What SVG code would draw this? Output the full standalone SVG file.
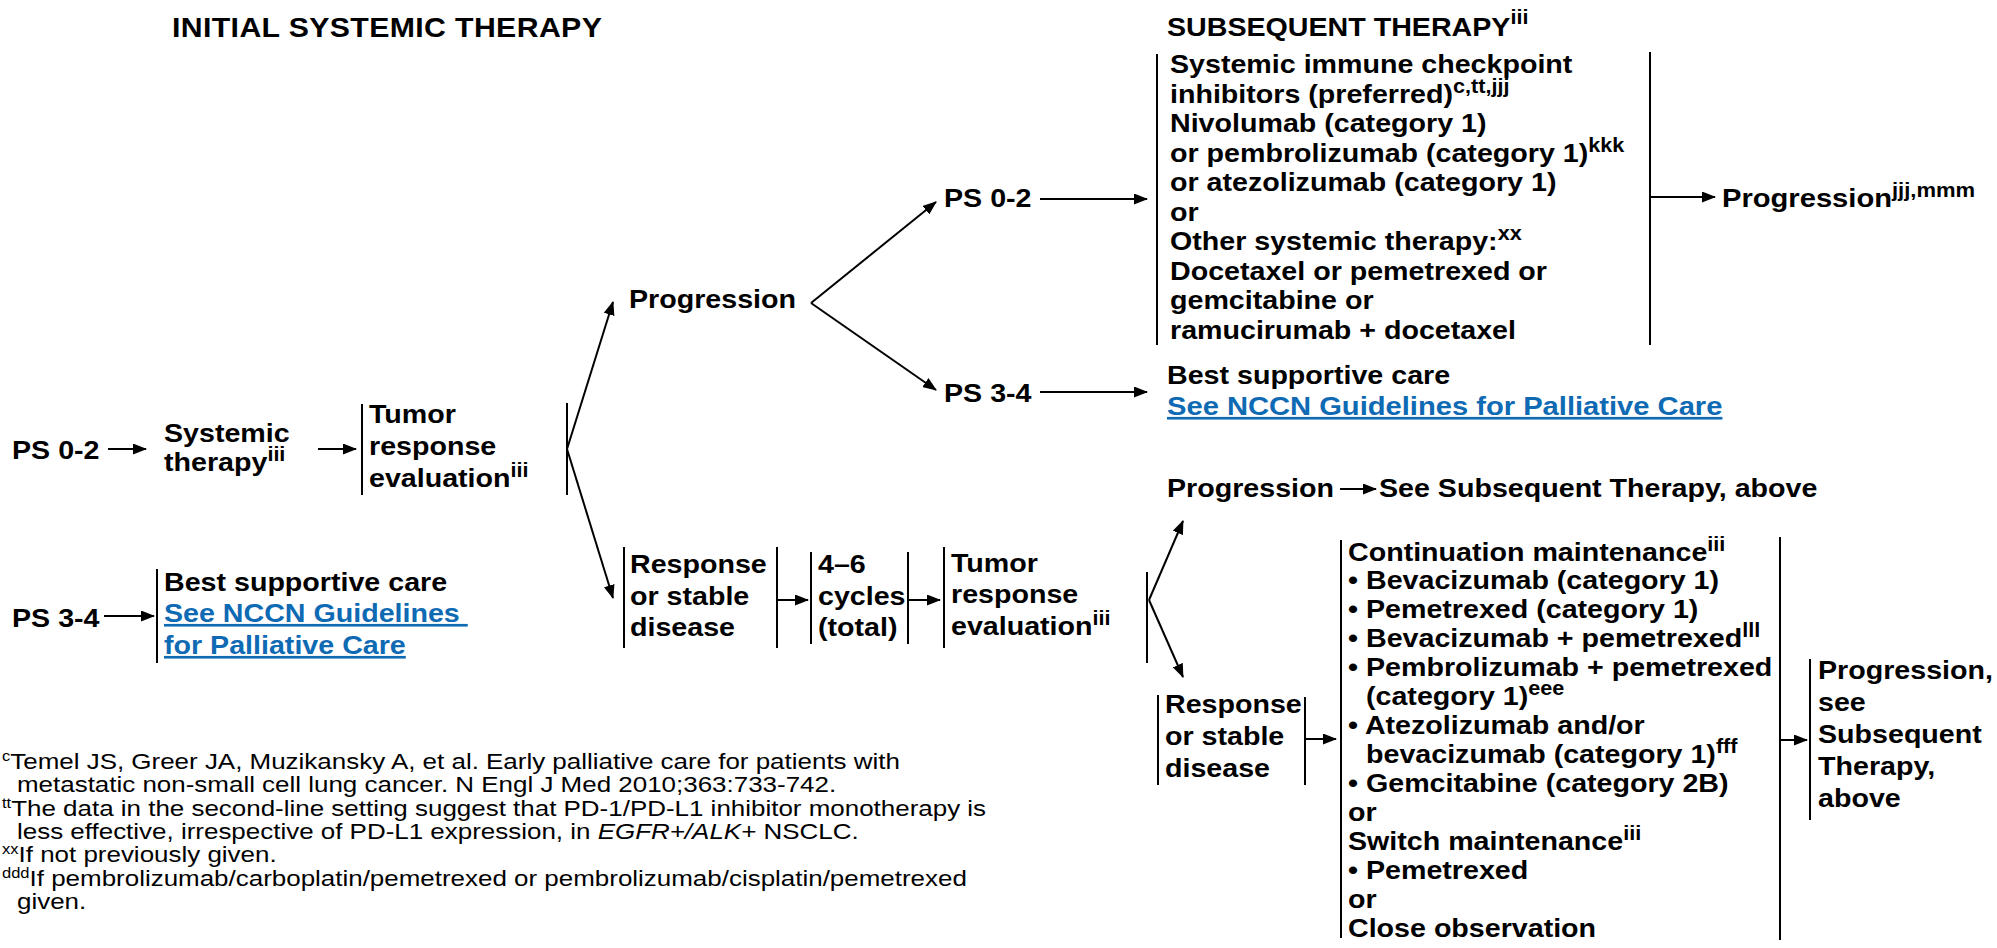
<svg xmlns="http://www.w3.org/2000/svg" width="1997" height="948" viewBox="0 0 1997 948">
<style>
.t{font-family:"Liberation Sans",Arial,Helvetica,sans-serif;font-weight:bold;font-size:26.5px;fill:#000}
.h{font-size:28px}
.h2{font-size:26.5px}
.s{font-size:20px}
.lk{fill:#0f6ab4;text-decoration:underline}
.fn{font-family:"Liberation Sans",Arial,Helvetica,sans-serif;font-size:22px;fill:#000}
.fs{font-size:14px}
.it{font-style:italic}
.bar{stroke:#000;stroke-width:2;fill:none}
.ar{stroke:#000;stroke-width:2;fill:none;marker-end:url(#ah)}
</style>
<defs>
<marker id="ah" viewBox="0 0 14 11" refX="13" refY="5.5" markerWidth="14" markerHeight="11" markerUnits="userSpaceOnUse" orient="auto"><path d="M0,0 L14,5.5 L0,11 z" fill="#000"/></marker>
</defs>
<rect width="1997" height="948" fill="#fff"/>

<g id="titles">
<text class="t h" transform="matrix(1.08 0 0 1 172 37)" textLength="398" lengthAdjust="spacing">INITIAL SYSTEMIC THERAPY</text>
<text class="t h2" transform="matrix(1.08 0 0 1 1167 36)">SUBSEQUENT THERAPY<tspan class="s" dy="-12">iii</tspan></text>
</g>

<g id="connectors">
<line class="ar" x1="108" y1="449" x2="146" y2="449"/>
<line class="ar" x1="318" y1="449" x2="356" y2="449"/>
<line class="ar" x1="104" y1="616" x2="154" y2="616"/>
<line class="ar" x1="567" y1="449" x2="613" y2="302"/>
<line class="ar" x1="567" y1="449" x2="613" y2="598"/>
<line class="ar" x1="811" y1="303" x2="936" y2="202"/>
<line class="ar" x1="811" y1="303" x2="936" y2="390"/>
<line class="ar" x1="1040" y1="199" x2="1147" y2="199"/>
<line class="ar" x1="1040" y1="392" x2="1147" y2="392"/>
<line class="ar" x1="1651" y1="197" x2="1715" y2="197"/>
<line class="ar" x1="778" y1="600" x2="808" y2="600"/>
<line class="ar" x1="909" y1="600" x2="940" y2="600"/>
<line class="ar" x1="1149" y1="600" x2="1183" y2="521"/>
<line class="ar" x1="1149" y1="600" x2="1183" y2="677"/>
<line class="ar" x1="1340" y1="489" x2="1376" y2="489"/>
<line class="ar" x1="1306" y1="739" x2="1336" y2="739"/>
<line class="ar" x1="1781" y1="740" x2="1807" y2="740"/>
</g>

<g id="ps02-start">
<text class="t" transform="matrix(1.08 0 0 1 12 459)">PS 0-2</text>
</g>
<g id="systemic-therapy">
<text class="t" transform="matrix(1.08 0 0 1 164 442)">Systemic</text>
<text class="t" transform="matrix(1.08 0 0 1 164 471)">therapy<tspan class="s" dy="-10">iii</tspan></text>
</g>
<g id="tumor-eval-1">
<line class="bar" x1="362" y1="404" x2="362" y2="495"/>
<text class="t" transform="matrix(1.08 0 0 1 369 423)">Tumor</text>
<text class="t" transform="matrix(1.08 0 0 1 369 455)">response</text>
<text class="t" transform="matrix(1.08 0 0 1 369 487)">evaluation<tspan class="s" dy="-10">iii</tspan></text>
<line class="bar" x1="567" y1="403" x2="567" y2="495"/>
</g>
<g id="ps34-start">
<text class="t" transform="matrix(1.08 0 0 1 12 627)">PS 3-4</text>
</g>
<g id="bsc-1">
<line class="bar" x1="157" y1="569" x2="157" y2="663"/>
<text class="t" transform="matrix(1.08 0 0 1 164 591)">Best supportive care</text>
<text class="t lk" xml:space="preserve" transform="matrix(1.08 0 0 1 164 622)">See NCCN Guidelines </text>
<text class="t lk" transform="matrix(1.08 0 0 1 164 654)">for Palliative Care</text>
</g>

<g id="progression-1">
<text class="t" transform="matrix(1.08 0 0 1 629 308)">Progression</text>
</g>
<g id="ps02-prog">
<text class="t" transform="matrix(1.08 0 0 1 944 207)">PS 0-2</text>
</g>
<g id="ps34-prog">
<text class="t" transform="matrix(1.08 0 0 1 944 402)">PS 3-4</text>
</g>

<g id="subsequent-options">
<line class="bar" x1="1157" y1="54" x2="1157" y2="345"/>
<text class="t" transform="matrix(1.08 0 0 1 1170 73)">Systemic immune checkpoint</text>
<text class="t" transform="matrix(1.08 0 0 1 1170 102.5)">inhibitors (preferred)<tspan class="s" dy="-10">c,tt,jjj</tspan></text>
<text class="t" transform="matrix(1.08 0 0 1 1170 132)">Nivolumab (category 1)</text>
<text class="t" transform="matrix(1.08 0 0 1 1170 161.5)">or pembrolizumab (category 1)<tspan class="s" dy="-10">kkk</tspan></text>
<text class="t" transform="matrix(1.08 0 0 1 1170 191)">or atezolizumab (category 1)</text>
<text class="t" transform="matrix(1.08 0 0 1 1170 220.5)">or</text>
<text class="t" transform="matrix(1.08 0 0 1 1170 250)">Other systemic therapy:<tspan class="s" dy="-10">xx</tspan></text>
<text class="t" transform="matrix(1.08 0 0 1 1170 279.5)">Docetaxel or pemetrexed or</text>
<text class="t" transform="matrix(1.08 0 0 1 1170 309)">gemcitabine or</text>
<text class="t" transform="matrix(1.08 0 0 1 1170 338.5)">ramucirumab + docetaxel</text>
<line class="bar" x1="1650" y1="52" x2="1650" y2="345"/>
</g>
<g id="progression-top">
<text class="t" transform="matrix(1.1 0 0 1 1722 207)">Progression<tspan class="s" dy="-10">jjj,mmm</tspan></text>
</g>
<g id="bsc-2">
<text class="t" transform="matrix(1.08 0 0 1 1167 384)">Best supportive care</text>
<text class="t lk" transform="matrix(1.1 0 0 1 1167 415)">See NCCN Guidelines for Palliative Care</text>
</g>

<g id="response-1">
<line class="bar" x1="624" y1="547" x2="624" y2="648"/>
<text class="t" transform="matrix(1.08 0 0 1 630 573)">Response</text>
<text class="t" transform="matrix(1.08 0 0 1 630 605)">or stable</text>
<text class="t" transform="matrix(1.08 0 0 1 630 636)">disease</text>
<line class="bar" x1="777" y1="547" x2="777" y2="648"/>
</g>
<g id="cycles">
<line class="bar" x1="811" y1="552" x2="811" y2="644"/>
<text class="t" transform="matrix(1.08 0 0 1 818 573)">4–6</text>
<text class="t" transform="matrix(1.08 0 0 1 818 605)">cycles</text>
<text class="t" transform="matrix(1.08 0 0 1 818 636)">(total)</text>
<line class="bar" x1="908" y1="552" x2="908" y2="644"/>
</g>
<g id="tumor-eval-2">
<line class="bar" x1="944" y1="547" x2="944" y2="648"/>
<text class="t" transform="matrix(1.08 0 0 1 951 572)">Tumor</text>
<text class="t" transform="matrix(1.08 0 0 1 951 603)">response</text>
<text class="t" transform="matrix(1.08 0 0 1 951 635)">evaluation<tspan class="s" dy="-10">iii</tspan></text>
<line class="bar" x1="1147" y1="572" x2="1147" y2="663"/>
</g>
<g id="progression-2">
<text class="t" transform="matrix(1.08 0 0 1 1167 497)">Progression</text>
</g>
<g id="see-subsequent">
<text class="t" transform="matrix(1.08 0 0 1 1379 497)">See Subsequent Therapy, above</text>
</g>
<g id="response-2">
<line class="bar" x1="1158" y1="695" x2="1158" y2="785"/>
<text class="t" transform="matrix(1.08 0 0 1 1165 713)">Response</text>
<text class="t" transform="matrix(1.08 0 0 1 1165 745)">or stable</text>
<text class="t" transform="matrix(1.08 0 0 1 1165 777)">disease</text>
<line class="bar" x1="1305" y1="697" x2="1305" y2="785"/>
</g>
<g id="maintenance">
<line class="bar" x1="1341" y1="540" x2="1341" y2="938"/>
<text class="t" transform="matrix(1.08 0 0 1 1348 561)">Continuation maintenance<tspan class="s" dy="-10">iii</tspan></text>
<text class="t" transform="matrix(1.08 0 0 1 1348 589)">• Bevacizumab (category 1)</text>
<text class="t" transform="matrix(1.08 0 0 1 1348 618)">• Pemetrexed (category 1)</text>
<text class="t" transform="matrix(1.08 0 0 1 1348 647)">• Bevacizumab + pemetrexed<tspan class="s" dy="-10">lll</tspan></text>
<text class="t" transform="matrix(1.08 0 0 1 1348 676)">• Pembrolizumab + pemetrexed</text>
<text class="t" transform="matrix(1.08 0 0 1 1366 705)">(category 1)<tspan class="s" dy="-10">eee</tspan></text>
<text class="t" transform="matrix(1.08 0 0 1 1348 734)">• Atezolizumab and/or</text>
<text class="t" transform="matrix(1.08 0 0 1 1366 763)">bevacizumab (category 1)<tspan class="s" dy="-10">fff</tspan></text>
<text class="t" transform="matrix(1.08 0 0 1 1348 792)">• Gemcitabine (category 2B)</text>
<text class="t" transform="matrix(1.08 0 0 1 1348 821)">or</text>
<text class="t" transform="matrix(1.08 0 0 1 1348 850)">Switch maintenance<tspan class="s" dy="-10">iii</tspan></text>
<text class="t" transform="matrix(1.08 0 0 1 1348 879)">• Pemetrexed</text>
<text class="t" transform="matrix(1.08 0 0 1 1348 908)">or</text>
<text class="t" transform="matrix(1.08 0 0 1 1348 937)">Close observation</text>
<line class="bar" x1="1780" y1="537" x2="1780" y2="940"/>
</g>
<g id="progression-3">
<line class="bar" x1="1810" y1="659" x2="1810" y2="820"/>
<text class="t" transform="matrix(1.08 0 0 1 1818 679)">Progression,</text>
<text class="t" transform="matrix(1.08 0 0 1 1818 711)">see</text>
<text class="t" transform="matrix(1.08 0 0 1 1818 743)">Subsequent</text>
<text class="t" transform="matrix(1.08 0 0 1 1818 775)">Therapy,</text>
<text class="t" transform="matrix(1.08 0 0 1 1818 807)">above</text>
</g>

<g id="footnotes">
<text class="fn" transform="matrix(1.18 0 0 1 2 769)"><tspan class="fs" dy="-8">c</tspan><tspan dy="8">Temel JS, Greer JA, Muzikansky A, et al. Early palliative care for patients with</tspan></text>
<text class="fn" transform="matrix(1.18 0 0 1 17 792)">metastatic non-small cell lung cancer. N Engl J Med 2010;363:733-742.</text>
<text class="fn" transform="matrix(1.18 0 0 1 2 816)"><tspan class="fs" dy="-8">tt</tspan><tspan dy="8">The data in the second-line setting suggest that PD-1/PD-L1 inhibitor monotherapy is</tspan></text>
<text class="fn" transform="matrix(1.18 0 0 1 17 839)">less effective, irrespective of PD-L1 expression, in <tspan class="it">EGFR+/ALK+</tspan> NSCLC.</text>
<text class="fn" transform="matrix(1.18 0 0 1 2 862)"><tspan class="fs" dy="-8">xx</tspan><tspan dy="8">If not previously given.</tspan></text>
<text class="fn" transform="matrix(1.18 0 0 1 2 886)"><tspan class="fs" dy="-8">ddd</tspan><tspan dy="8">If pembrolizumab/carboplatin/pemetrexed or pembrolizumab/cisplatin/pemetrexed</tspan></text>
<text class="fn" transform="matrix(1.18 0 0 1 17 909)">given.</text>
</g>
</svg>
